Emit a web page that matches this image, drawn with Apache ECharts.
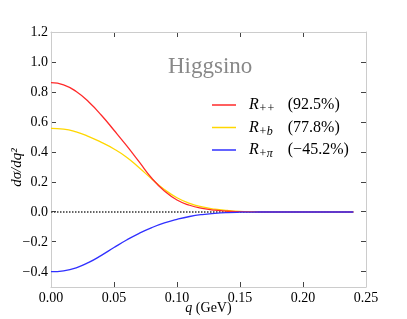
<!DOCTYPE html>
<html><head><meta charset="utf-8">
<script src="https://cdn.jsdelivr.net/npm/echarts@6/dist/echarts.min.js"></script>
<style>html,body{margin:0;padding:0;background:#fff}#c{width:407px;height:319px}</style>
</head><body><div id="c"></div>
<script>
const qValues = [0,0.01,0.02,0.03,0.04,0.05,0.06,0.07,0.08,0.09,0.10,0.11,0.12,0.13,0.14,0.15,0.16,0.17,0.18,0.19,0.20,0.21,0.22,0.23,0.24];
const rPlusPlus = [0.862,0.848,0.803,0.733,0.645,0.545,0.442,0.334,0.225,0.140,0.080,0.045,0.024,0.012,0.005,0.002,0.0005,0,0,0,0,0,0,0,0];
const rPlusB    = [0.558,0.553,0.534,0.503,0.464,0.420,0.365,0.295,0.220,0.150,0.095,0.058,0.034,0.019,0.010,0.004,0.0015,0,0,0,0,0,0,0,0];
const rPlusPi   = [-0.398,-0.392,-0.372,-0.336,-0.289,-0.237,-0.187,-0.142,-0.104,-0.073,-0.049,-0.030,-0.017,-0.009,-0.004,-0.0015,-0.0005,0,0,0,0,0,0,0,0];
const zeroLine  = qValues.map(() => 0);
const seriesNames = ['Rpp','Rpb','Rpi'];
const subscripts = ['++','+b','+\u03c0'];
const percents = ['(92.5%)','(77.8%)','(\u221245.2%)'];
const yTicks = [-0.4,-0.2,0,0.2,0.4,0.6,0.8,1.0,1.2];
const xTicks = [0,0.05,0.10,0.15,0.20,0.25];
const colors = ['#ff2a2a','#ffd700','#3030ff'];

const pairs = arr => qValues.map((q,i)=>[q,arr[i]]);
const serif = "'Liberation Serif', 'DejaVu Serif', serif";
const fmtY = v => (v<0?'\u2212':'') + Math.abs(v).toFixed(1);
const fmtX = v => v.toFixed(2);

const chart = echarts.init(document.getElementById('c'), null, {renderer:'canvas'});
const lineStyle = {show:true, lineStyle:{color:'#cccccc', width:1}};
const hidden = (extent, grid) => ({type:'value', gridIndex:grid||0, min:extent[0], max:extent[1], show:false, axisLine:{onZero:false}});
// tick strips: thin grids along each frame edge whose split lines form the inward tick marks
const tickLines = {show:true, lineStyle:{color:'#444', width:1}};
const stripX = (grid) => ({type:'value', gridIndex:grid, min:xTicks[0], max:xTicks[xTicks.length-1], interval:0.05,
  axisLine:{show:false, onZero:false}, axisTick:{show:false}, axisLabel:{show:false}, splitLine:tickLines});
const stripY = (grid) => ({type:'value', gridIndex:grid, min:yTicks[0], max:yTicks[yTicks.length-1], interval:0.2,
  axisLine:{show:false, onZero:false}, axisTick:{show:false}, axisLabel:{show:false}, splitLine:tickLines});

chart.setOption({
  animation:false,
  backgroundColor:'#fff',
  title:{text:'Higgsino', left:163, top:50, textStyle:{fontFamily:serif, fontSize:23, fontWeight:'normal', color:'#888'}},
  grid:[
    {left:51, right:41, top:32, bottom:32, outerBoundsMode:'none'},
    {left:51, right:41, top:32, height:5, outerBoundsMode:'none'},
    {left:51, right:41, bottom:32, height:5, outerBoundsMode:'none'},
    {left:51, width:5, top:32, bottom:47.4, outerBoundsMode:'none'},
    {right:41, width:5, top:32, bottom:47.4, outerBoundsMode:'none'}
  ],
  legend:{
    orient:'vertical', left:207, top:92, itemWidth:24, itemHeight:1.5, itemGap:4.5, icon:'rect',
    data: seriesNames,
    formatter: name => {
      const i = seriesNames.indexOf(name);
      return '{m|R}{s|' + subscripts[i] + '}{t|' + percents[i] + '}';
    },
    textStyle:{
      padding:[0,0,0,8],
      rich:{
        m:{fontFamily:serif, fontStyle:'italic', fontSize:16, color:'#000', lineHeight:20, verticalAlign:'middle'},
        s:{fontFamily:serif, fontStyle:'italic', fontSize:12, color:'#000', lineHeight:12, verticalAlign:'bottom', width:29},
        t:{fontFamily:serif, fontSize:16, color:'#000', lineHeight:20, verticalAlign:'middle'}
      }
    }
  },
  xAxis:[{
    type:'value', min:0, max:0.25, interval:0.05, position:'bottom',
    axisLine:lineStyle, axisTick:{show:false},
    axisLabel:{formatter:fmtX, fontFamily:serif, fontSize:14, color:'#000', margin:4},
    splitLine:{show:false},
    name:'{i|q} (GeV)', nameLocation:'middle', nameGap:14, nameMoveOverlap:false,
    nameTextStyle:{fontFamily:serif, fontSize:14, color:'#000', rich:{i:{fontFamily:serif, fontStyle:'italic', fontSize:14, color:'#000'}}}
  },
  hidden([-1,0]),
  {
    type:'value', min:0, max:0.25, interval:0.05, position:'top',
    axisLine:lineStyle, axisTick:{show:false},
    axisLabel:{show:false}, splitLine:{show:false}
  },
  stripX(1), stripX(2), hidden([0,1],3), hidden([0,1],4)],
  yAxis:[
  hidden([0,1]), hidden([-1,0]),
  {
    type:'value', min:-0.5, max:1.2, position:'left',
    axisLine:lineStyle, axisTick:{show:false},
    axisLabel:{customValues:yTicks, formatter:fmtY, fontFamily:serif, fontSize:14, color:'#000', margin:3},
    splitLine:{show:false},
    name:'d\u03c3/dq\u00b2', nameLocation:'middle', nameGap:26, nameRotate:90, nameMoveOverlap:false,
    nameTextStyle:{fontFamily:serif, fontStyle:'italic', fontSize:15, color:'#000', padding:[0,16,0,0]}
  },{
    type:'value', min:-0.5, max:1.2, position:'right',
    axisLine:lineStyle, axisTick:{show:false},
    axisLabel:{show:false}, splitLine:{show:false}
  },
  hidden([0,1],1), hidden([0,1],2), stripY(3), stripY(4)],
  series:[
    {type:'line', name:'zero', xAxisIndex:0, yAxisIndex:2, data:pairs(zeroLine), symbol:'none', z:1, silent:true,
     lineStyle:{color:'#333', width:1.4, type:[1.5,1.5]}},
    {type:'line', name:seriesNames[0], xAxisIndex:0, yAxisIndex:2, data:pairs(rPlusPlus), symbol:'none', smooth:true, z:3, lineStyle:{color:colors[0], width:1.3}, itemStyle:{color:colors[0]}},
    {type:'line', name:seriesNames[1], xAxisIndex:0, yAxisIndex:2, data:pairs(rPlusB), symbol:'none', smooth:true, z:2, lineStyle:{color:colors[1], width:1.3}, itemStyle:{color:colors[1]}},
    {type:'line', name:seriesNames[2], xAxisIndex:0, yAxisIndex:2, data:pairs(rPlusPi), symbol:'none', smooth:true, z:4, lineStyle:{color:colors[2], width:1.3}, itemStyle:{color:colors[2]}}
  ]
});
</script></body></html>
